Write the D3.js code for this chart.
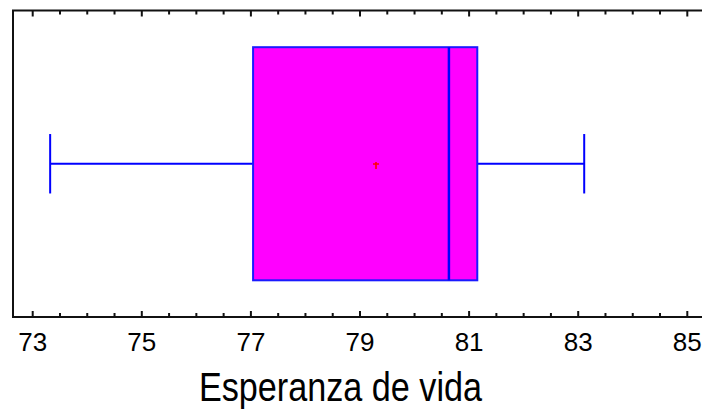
<!DOCTYPE html>
<html>
<head>
<meta charset="utf-8">
<script src="https://cdn.jsdelivr.net/npm/d3@7"></script>
<style>
  body { margin: 0; background: #fff; }
  text { font-family: "Liberation Sans", Arial, sans-serif; fill: #000; }
</style>
</head>
<body>
<div id="chart"></div>
<script>
var width = 702,
    height = 409;

// box-and-whisker summary for the variable
var variable = ['Esperanza de vida'];
var minimum = [73.32];
var q1 = [77.04];
var median = [80.63];
var q3 = [81.15];
var maximum = [83.11];
var mean = [79.29];

var tickValues = [73, 75, 77, 79, 81, 83, 85];
var minorTicks = d3.range(73, 85.01, 0.5);

var frameLeft = 13,
    frameTop = 10.5,
    frameBottom = 317;

var svg = d3.select('#chart')
    .append('svg')
    .attr('width', width)
    .attr('height', height);

var x = d3.scaleLinear()
    .domain([73, 85])
    .range([32.7, 687.3]);

var y = d3.scaleBand()
    .domain(variable)
    .range([frameTop, frameBottom])
    .padding(0.136);

var boxes = variable.map((v, i) => ({
    name: v, min: minimum[i], q1: q1[i], med: median[i],
    q3: q3[i], max: maximum[i], mean: mean[i]
}));

// whiskers
var g = svg.selectAll('g.box')
    .data(boxes)
    .enter()
    .append('g')
    .attr('class', 'box');

var mid = d => y(d.name) + y.bandwidth() / 2;
var capH = d => y.bandwidth() * 0.255;

g.append('line')
    .attr('x1', d => x(d.min))
    .attr('x2', d => x(d.q1))
    .attr('y1', mid).attr('y2', mid)
    .attr('stroke', '#0000ff').attr('stroke-width', 2);

g.append('line')
    .attr('x1', d => x(d.q3))
    .attr('x2', d => x(d.max))
    .attr('y1', mid).attr('y2', mid)
    .attr('stroke', '#0000ff').attr('stroke-width', 2);

g.selectAll('line.cap')
    .data(d => [d.min, d.max].map(v => ({v: v, d: d})))
    .enter()
    .append('line')
    .attr('class', 'cap')
    .attr('x1', c => x(c.v)).attr('x2', c => x(c.v))
    .attr('y1', c => mid(c.d) - capH(c.d) / 2)
    .attr('y2', c => mid(c.d) + capH(c.d) / 2)
    .attr('stroke', '#0000ff').attr('stroke-width', 2);

g.append('rect')
    .attr('x', d => x(d.q1))
    .attr('y', d => y(d.name))
    .attr('width', d => x(d.q3) - x(d.q1))
    .attr('height', y.bandwidth())
    .attr('fill', '#ff00ff')
    .attr('stroke', '#1a1aff')
    .attr('stroke-width', 2);

g.append('line')
    .attr('x1', d => x(d.med)).attr('x2', d => x(d.med))
    .attr('y1', d => y(d.name))
    .attr('y2', d => y(d.name) + y.bandwidth())
    .attr('stroke', '#0000ff').attr('stroke-width', 2.5);

// mean marker
g.append('path')
    .attr('d', d => {
        var cx = Math.round(x(d.mean)), cy = Math.round(mid(d));
        return 'M' + (cx - 3) + ',' + cy + 'H' + (cx + 3) +
            'M' + cx + ',' + (cy - 2) + 'V' + (cy + 5);
    })
    .attr('stroke', '#ff0000')
    .attr('stroke-width', 1.6)
    .attr('fill', 'none');

// frame
svg.append('path')
    .attr('d', 'M' + width + ',' + frameTop + 'H' + frameLeft + 'V' + frameBottom + 'H' + width)
    .attr('fill', 'none')
    .attr('stroke', '#111')
    .attr('stroke-width', 2);

// ticks, pointing inward on top and bottom
var isMajor = v => Math.abs(v - Math.round(v)) < 1e-6 && Math.round(v) % 2 === 1;

svg.selectAll('line.tick-bottom')
    .data(minorTicks)
    .enter()
    .append('line')
    .attr('class', 'tick-bottom')
    .attr('x1', d => x(d)).attr('x2', d => x(d))
    .attr('y1', frameBottom)
    .attr('y2', d => frameBottom - (isMajor(d) ? 6 : 4))
    .attr('stroke', '#111').attr('stroke-width', 2);

svg.selectAll('line.tick-top')
    .data(minorTicks)
    .enter()
    .append('line')
    .attr('class', 'tick-top')
    .attr('x1', d => x(d)).attr('x2', d => x(d))
    .attr('y1', frameTop)
    .attr('y2', d => frameTop + (isMajor(d) ? 6 : 4))
    .attr('stroke', '#111').attr('stroke-width', 2);

svg.selectAll('text.tick-label')
    .data(tickValues)
    .enter()
    .append('text')
    .attr('class', 'tick-label')
    .attr('x', d => x(d))
    .attr('y', 351)
    .attr('text-anchor', 'middle')
    .style('font-size', '26px')
    .text(d => d);

svg.append('text')
    .attr('x', 199)
    .attr('y', 401)
    .attr('textLength', 283)
    .attr('lengthAdjust', 'spacingAndGlyphs')
    .style('font-size', '40px')
    .text(variable[0]);
</script>
</body>
</html>
